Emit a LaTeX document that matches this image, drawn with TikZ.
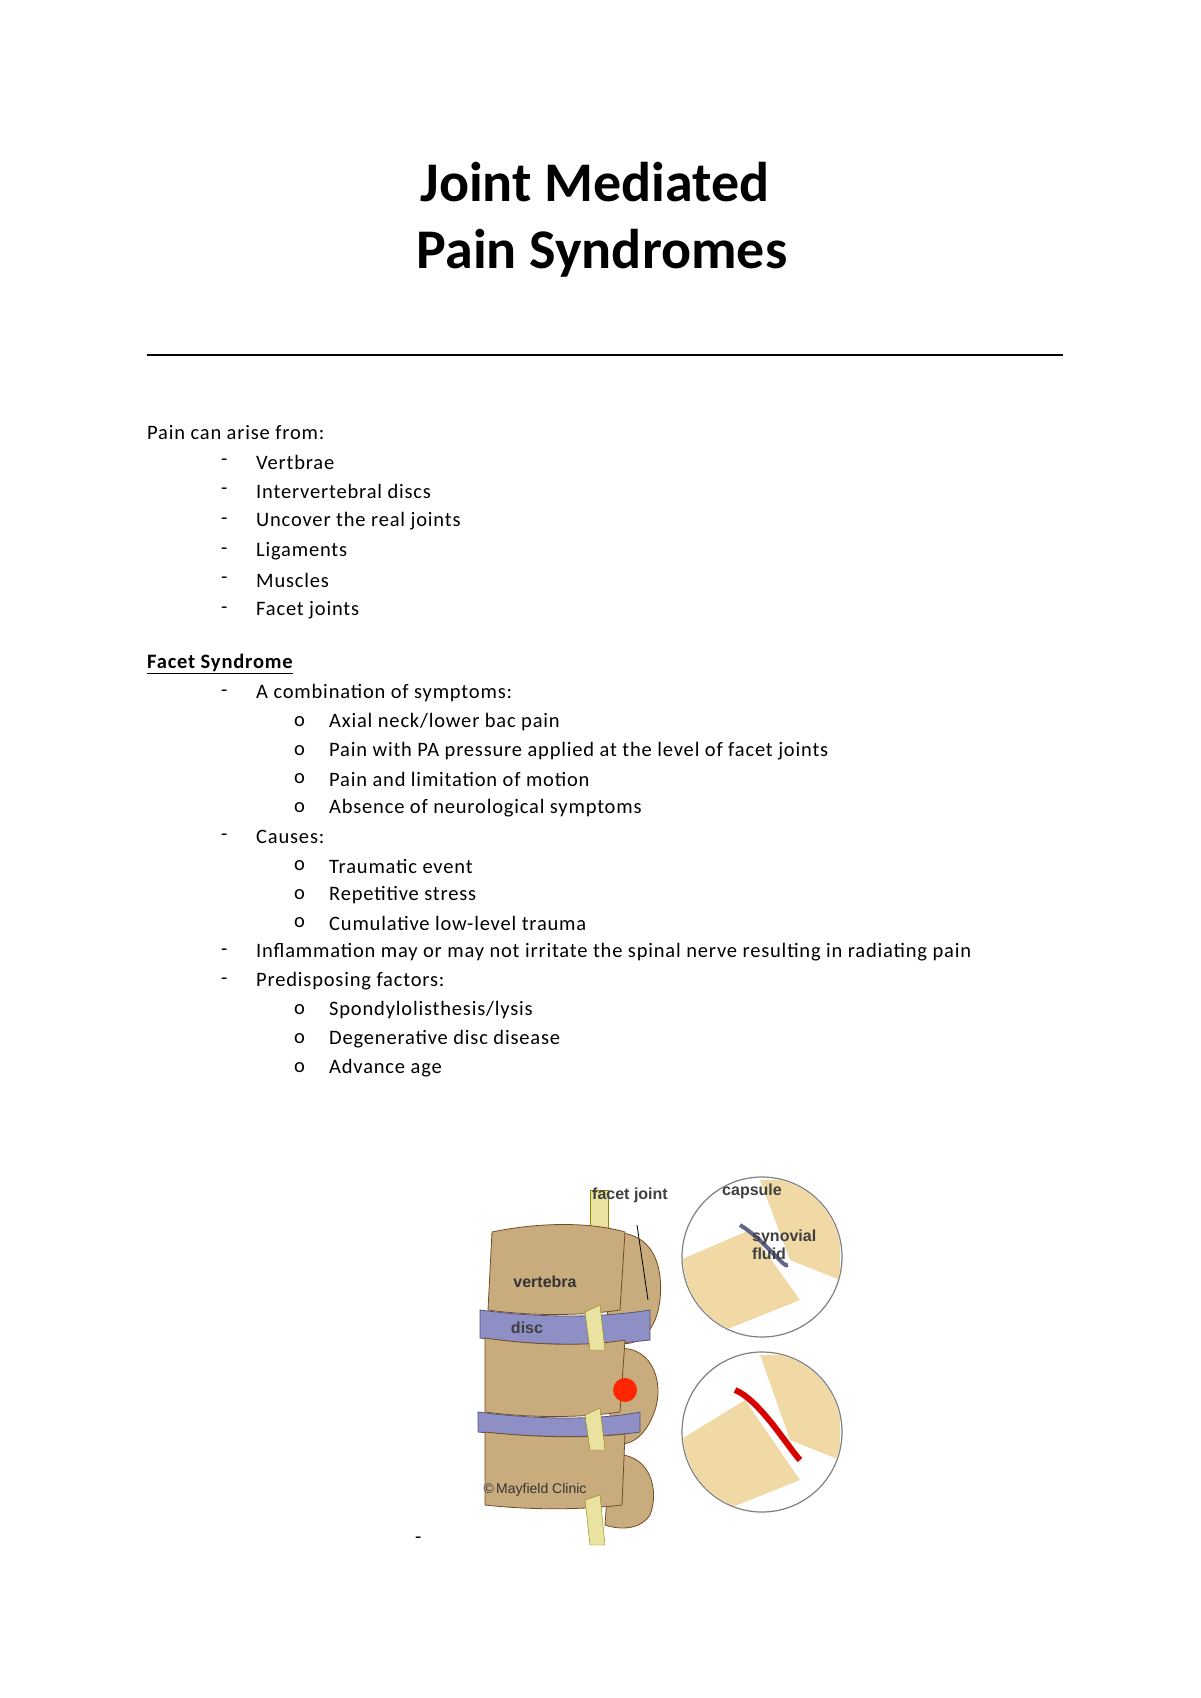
\documentclass[tikz,border=0pt]{standalone}
\usepackage{fontspec}
\setmainfont{Carlito}
\newfontfamily\lab{Liberation Sans}
\newfontfamily\bodyf[LetterSpace=4]{Carlito}
\begin{document}
\begin{tikzpicture}[x=1pt,y=-1pt,
  body/.style={font=\bodyf\fontsize{20.5}{24}\selectfont,anchor=west,inner sep=0},
  lbl/.style={font=\lab\bfseries\fontsize{16}{18}\selectfont,text=black!75,inner sep=0},
  bone/.style={fill=bonec,draw=brown!60!black,line width=0.8},
  discs/.style={fill=discc,draw=discc!60!black,line width=0.8}]
\definecolor{bonec}{HTML}{C9AC7E}
\definecolor{discc}{HTML}{8E8FC4}
\definecolor{nerve}{HTML}{E9E2A0}
\definecolor{marrow}{HTML}{F1D9A6}
\useasboundingbox (0,0) rectangle (1200,1698);
\node[font=\bfseries\fontsize{56}{60}\selectfont] (t1) at (595,182) {Joint Mediated};
\node[font=\bfseries\fontsize{56}{60}\selectfont] (t2) at (602,253) {Pain Syndromes};
\draw[line width=2.5] (147,355) -- (1063,355);
\node[body] (p0) at (147,433) {Pain can arise from:};
\foreach \y/\t in {462/Vertbrae,491/Intervertebral discs,521/Uncover the real joints,551/Ligaments,580/Muscles,610/Facet joints,693/A combination of symptoms:,837/Causes:,952/Inflammation may or may not irritate the spinal nerve resulting in radiating pain,981/Predisposing factors:}{
  \node[body] at (221,\y) {-};
  \node[body] at (256,\y) {\t};}
\node[body,font=\bodyf\bfseries\fontsize{20.5}{24}\selectfont] (fs) at (147,664) {\underline{Facet Syndrome}};
\foreach \y/\t in {722/{Axial neck/lower bac pain},751/Pain with PA pressure applied at the level of facet joints,779/Pain and limitation of motion,808/Absence of neurological symptoms,866/Traumatic event,895/Repetitive stress,923/Cumulative low-level trauma,1010/{Spondylolisthesis/lysis},1039/Degenerative disc disease,1068/Advance age}{
  \node[body] at (294,\y) {o};
  \node[body] at (329,\y) {\t};}
% illustration
\fill[nerve,draw=olive] (590,1190) rectangle (608,1240);
\draw[bone] (600,1235) .. controls (640,1225) and (665,1250) .. (660,1300) .. controls (655,1340) and (630,1350) .. (610,1340) -- cycle;
\draw[bone] (610,1350) .. controls (650,1340) and (665,1380) .. (655,1410) .. controls (645,1440) and (625,1450) .. (610,1440) -- cycle;
\draw[bone] (610,1455) .. controls (650,1450) and (660,1490) .. (650,1515) .. controls (640,1530) and (620,1530) .. (605,1525) -- cycle;
\draw[bone] (492,1232) .. controls (540,1222) and (590,1222) .. (625,1232) -- (620,1310) .. controls (580,1316) and (530,1316) .. (488,1310) -- cycle;
\draw[discs] (480,1310) .. controls (540,1318) and (600,1318) .. (650,1310) -- (650,1340) .. controls (600,1346) and (540,1346) .. (480,1338) -- cycle;
\draw[bone] (485,1338) .. controls (540,1346) and (590,1346) .. (625,1340) -- (620,1412) .. controls (580,1418) and (530,1418) .. (485,1412) -- cycle;
\draw[discs] (478,1412) .. controls (540,1420) and (600,1420) .. (640,1412) -- (640,1432) .. controls (600,1438) and (540,1438) .. (478,1432) -- cycle;
\draw[bone] (485,1432) .. controls (540,1438) and (590,1438) .. (625,1434) -- (622,1505) .. controls (580,1510) and (530,1510) .. (485,1505) -- cycle;
\fill[nerve,draw=olive] (585,1312) -- (600,1305) -- (605,1350) -- (590,1350) -- cycle;
\fill[nerve,draw=olive] (585,1415) -- (600,1408) -- (605,1450) -- (590,1450) -- cycle;
\fill[nerve,draw=olive] (585,1500) -- (600,1495) -- (605,1545) -- (590,1545) -- cycle;
\fill[red!70!orange] (625,1390) circle (12);
\draw[line width=0.8] (637,1225) -- (648,1300);
% circles
\draw[fill=white,draw=gray,line width=1.2] (762,1257) circle (80);
\begin{scope}
\clip (762,1257) circle (79);
\fill[marrow] (680,1260) -- (750,1230) -- (800,1300) -- (700,1340) -- cycle;
\fill[marrow] (760,1180) -- (840,1180) -- (840,1280) -- (790,1260) -- cycle;
\draw[discc!70!black,line width=4] (740,1225) .. controls (765,1240) and (785,1270) .. (788,1265);
\end{scope}
\draw[fill=white,draw=gray,line width=1.2] (762,1432) circle (80);
\begin{scope}
\clip (762,1432) circle (79);
\fill[marrow] (680,1440) -- (745,1400) -- (800,1480) -- (700,1520) -- cycle;
\fill[marrow] (760,1355) -- (840,1355) -- (840,1460) -- (790,1440) -- cycle;
\draw[red!85!black,line width=6] (735,1390) .. controls (760,1400) and (790,1450) .. (800,1460);
\end{scope}
\node[lbl] (fj) at (630,1195) {facet joint};
\node[lbl] (cap) at (752,1191) {capsule};
\node[lbl,align=left,anchor=west] (sf) at (752,1245) {synovial\\fluid};
\node[lbl,text=black!80] (vb) at (545,1282) {vertebra};
\node[lbl] (dk) at (527,1328) {disc};
\node[lbl,font=\lab\fontsize{14}{16}\selectfont,text=black!80] (mc) at (535,1490) {\textcopyright\,Mayfield Clinic};
\node[body] at (415,1540) {-};
\end{tikzpicture}
\end{document}
